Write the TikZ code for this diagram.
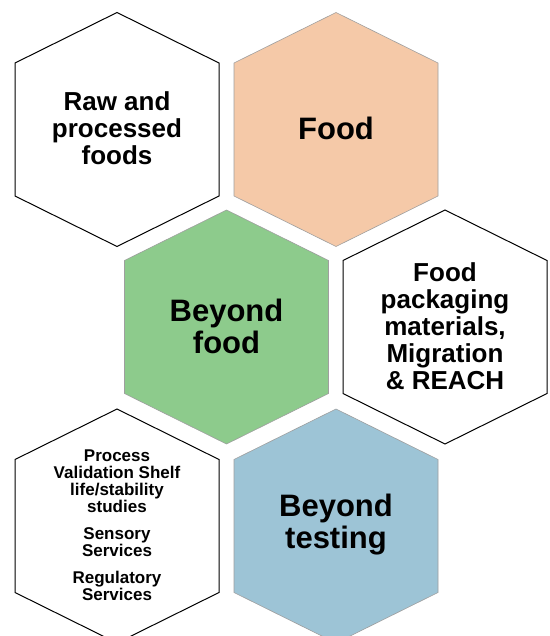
\documentclass[tikz,border=0pt]{standalone}
\usepackage{fontspec}
\setmainfont{Liberation Sans}
\usepackage{tikz}

\definecolor{foodpeach}{HTML}{F5C9A8}
\definecolor{beyondgreen}{HTML}{8DCB8C}
\definecolor{testingblue}{HTML}{9DC4D6}

% one hexagon, pointy top: style, centre x, centre y
\newcommand{\hexcell}[3]{%
    \draw[#1] (#2,#3) ++(0,-117) -- ++(102,50.5) -- ++(0,133) -- ++(-102,50.5)
        -- ++(-102,-50.5) -- ++(0,-133) -- cycle;}

\tikzset{
    hexplain/.style={draw=black, line width=1pt, fill=white},
    hexfood/.style={draw=gray!75, line width=0.6pt, fill=foodpeach},
    hexgreen/.style={draw=gray!75, line width=0.6pt, fill=beyondgreen},
    hexblue/.style={draw=gray!75, line width=0.6pt, fill=testingblue},
    celltext/.style={align=center, inner sep=0pt, font=\bfseries\fontsize{26}{27}\selectfont},
    bigtext/.style={align=center, inner sep=0pt, font=\bfseries\fontsize{31}{32}\selectfont},
    smalltext/.style={align=center, inner sep=0pt, font=\bfseries\fontsize{17}{17}\selectfont}
}

\begin{document}
\begin{tikzpicture}[x=1pt, y=-1pt]
        % Page
        \clip (0,0) rectangle (549,636);
        \fill[white] (0,0) rectangle (549,636);

        % Hexagons
        \hexcell{hexplain}{117}{129.5}
        \hexcell{hexfood}{336}{129.5}
        \hexcell{hexgreen}{226.5}{327}
        \hexcell{hexplain}{445}{327}
        \hexcell{hexplain}{117}{526}
        \hexcell{hexblue}{336}{526}

        % Labels
        \node[celltext] (rawfoods) at (117,128) {Raw and\\processed\\foods};
        \node[bigtext] (food) at (336,128) {Food};
        \node[bigtext] (beyondfood) at (226.5,326) {Beyond\\food};
        \node[celltext] (packaging) at (445,326) {Food\\packaging\\materials,\\Migration\\\& REACH};
        \node[smalltext] (services) at (117,525) {Process\\Validation Shelf\\life/stability\\studies\\[10pt]
            Sensory\\Services\\[10pt]Regulatory\\Services};
        \node[bigtext] (beyondtesting) at (336,525) {Beyond\\testing};
    \end{tikzpicture}
\end{document}
